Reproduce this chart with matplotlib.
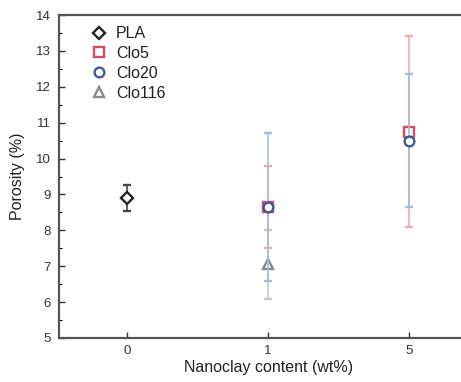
import matplotlib.pyplot as plt
from matplotlib.lines import Line2D
import numpy as np

# Datos
categorias = ["0", "1", "5"]
pla_x = [0]
pla_y = [8.9]
pla_err = [0.37]
clo5_x = [1, 2]
clo5_y = [8.65, 10.75]
clo5_err = [1.15, 2.67]
clo20_x = [1, 2]
clo20_y = [8.65, 10.5]
clo20_err = [2.07, 1.85]
clo116_x = [1]
clo116_y = [7.05]
clo116_err = [0.97]

plt.rcParams['font.family'] = ['Liberation Sans', 'DejaVu Sans']

fig = plt.figure(figsize=(4.61, 3.82), dpi=100)
ax = fig.add_axes([59 / 461, 44 / 382, 420 / 461, 323 / 382])

series = [
    ("Clo5", clo5_x, clo5_y, clo5_err, "s", "#d84a62", "#f0a8b0", 3, 6.5),
    ("Clo20", clo20_x, clo20_y, clo20_err, "o", "#3c5a9a", "#a8bce0", 4, 7),
    ("Clo116", clo116_x, clo116_y, clo116_err, "^", "#8a8a8a", "#c8c8c8", 2, 7),
    ("PLA", pla_x, pla_y, pla_err, "D", "#222222", "#444444", 5, 6),
]

manejadores = {}
for nombre, x, y, err, marca, color, ecolor, z, tam in series:
    linea, tapas, barras = ax.errorbar(
        x, y, yerr=err, marker=marca, color=color, ecolor=ecolor,
        linestyle="none", markersize=tam, markerfacecolor="white",
        markeredgewidth=1.7, capsize=3, capthick=0.9, elinewidth=1.2, zorder=z)
    for t in tapas:
        t.set_color("#555555")
    manejadores[nombre] = Line2D([], [], marker=marca, color=color, linestyle="none",
                                 markersize=tam, markerfacecolor="white",
                                 markeredgewidth=1.7)

ax.set_xlim(-0.485, 2.5)
ax.set_ylim(5, 14)
ax.set_xticks(range(len(categorias)))
ax.set_xticklabels(categorias)
ax.set_yticks(np.arange(5, 15, 1))
ax.set_yticks(np.arange(5, 14, 0.5), minor=True)
ax.tick_params(direction="in", length=4, width=1, labelsize=9.5, colors="#333333")
ax.tick_params(which="minor", direction="in", length=2, width=0.8)
ax.tick_params(axis="x", pad=5)
ax.tick_params(axis="y", pad=6)

for lado in ["left", "bottom", "top"]:
    ax.spines[lado].set_linewidth(1.6)
    ax.spines[lado].set_color("#555555")
ax.spines["right"].set_visible(False)

ax.set_xlabel("Nanoclay content (wt%)", fontsize=11.5, color="#222222", labelpad=2)
ax.set_ylabel("Porosity (%)", fontsize=11.5, color="#222222", labelpad=8)

orden = ["PLA", "Clo5", "Clo20", "Clo116"]
ax.legend([manejadores[n] for n in orden], orden, loc="upper left",
          frameon=False, fontsize=11.5, handletextpad=0.35, labelspacing=0.3,
          handlelength=1.5, borderaxespad=0.2, bbox_to_anchor=(0.043, 0.995),
          labelcolor="#222222")

fig.savefig("out.png", dpi=100)
